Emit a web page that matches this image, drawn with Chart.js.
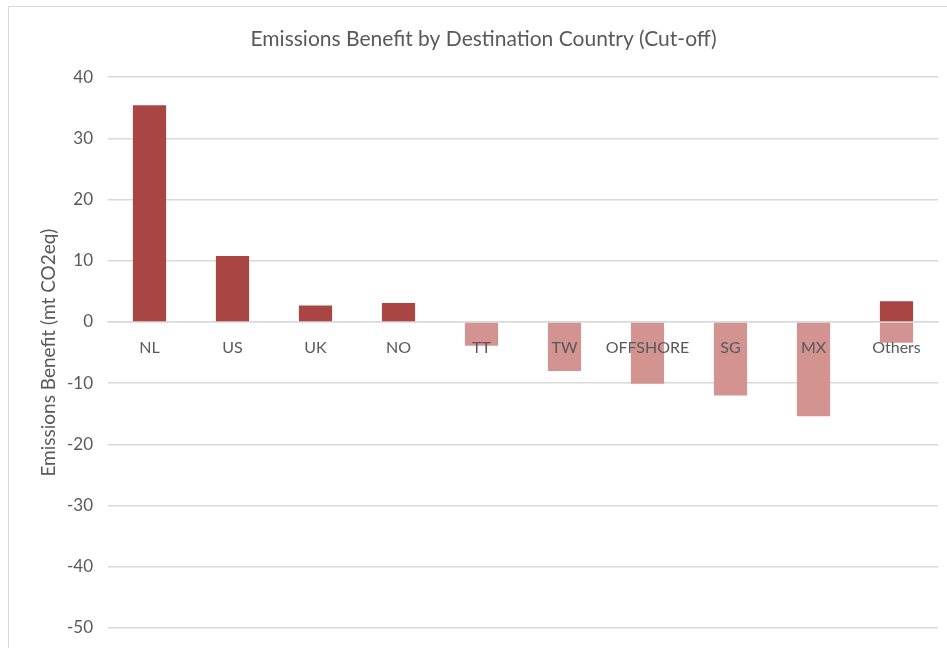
<!DOCTYPE html>
<html>
<head>
<meta charset="utf-8">
<script src="https://cdn.jsdelivr.net/npm/chart.js@4/dist/chart.umd.min.js"></script>
<style>
  html, body { margin: 0; padding: 0; background: #fff; overflow: hidden; width: 947px; height: 648px; }
  #box { position: absolute; left: 8px; top: 6px; width: 953px; height: 700px; border: 1px solid #d9d9d9; background: #fff; }
  #c { display: block; }
</style>
</head>
<body>
<div id="box"><canvas id="c" width="953" height="700"></canvas></div>
<script>
const categories = ["NL", "US", "UK", "NO", "TT", "TW", "OFFSHORE", "SG", "MX", "Others"];
const positiveBenefit = [35.4, 10.8, 2.7, 3.1, null, null, null, null, null, 3.4];
const negativeBenefit = [null, null, null, null, -3.9, -8.0, -10.1, -12.0, -15.4, -3.4];
const yTicks = [40, 30, 20, 10, 0, -10, -20, -30, -40, -50];
const chartTitle = "Emissions Benefit by Destination Country (Cut-off)";
const yAxisTitle = "Emissions Benefit (mt CO2eq)";

const FONT = "Lato, 'Open Sans', sans-serif";
const TEXT = "#595959";
const GRID = "#d9d9d9";

new Chart(document.getElementById("c"), {
  type: "bar",
  data: {
    labels: categories,
    datasets: [
      { label: "Positive", data: positiveBenefit, backgroundColor: "#a94643", barPercentage: 0.4, categoryPercentage: 1.0 },
      { label: "Negative", data: negativeBenefit, backgroundColor: "#d39391", barPercentage: 0.4, categoryPercentage: 1.0 }
    ]
  },
  options: {
    responsive: false,
    animation: false,
    layout: { padding: { left: 20, right: 24, top: 0, bottom: 79 } },
    plugins: {
      legend: { display: false },
      tooltip: { enabled: false },
      title: {
        display: true,
        text: chartTitle,
        color: TEXT,
        font: { family: FONT, size: 21, weight: "normal" },
        padding: { top: 20, bottom: 25 }
      }
    },
    scales: {
      x: {
        stacked: true,
        position: { y: 0 },
        grid: { display: false, drawTicks: false },
        border: { display: true, color: GRID, width: 1.5 },
        ticks: { color: TEXT, font: { family: FONT, size: 16 }, padding: 16, z: 1, maxRotation: 0, autoSkip: false }
      },
      y: {
        stacked: true,
        min: -50,
        max: 40,
        afterBuildTicks: (scale) => { scale.ticks = yTicks.map(v => ({ value: v })); },
        afterFit: (scale) => { scale.width = 79; },
        grid: { color: GRID, lineWidth: 1.5, drawTicks: false },
        border: { display: false },
        ticks: { color: TEXT, font: { family: FONT, size: 17 }, padding: 15 },
        title: {
          display: true,
          text: yAxisTitle,
          color: TEXT,
          font: { family: FONT, size: 19 },
          padding: { top: 8, bottom: 0 }
        }
      }
    }
  }
});
</script>
</body>
</html>
